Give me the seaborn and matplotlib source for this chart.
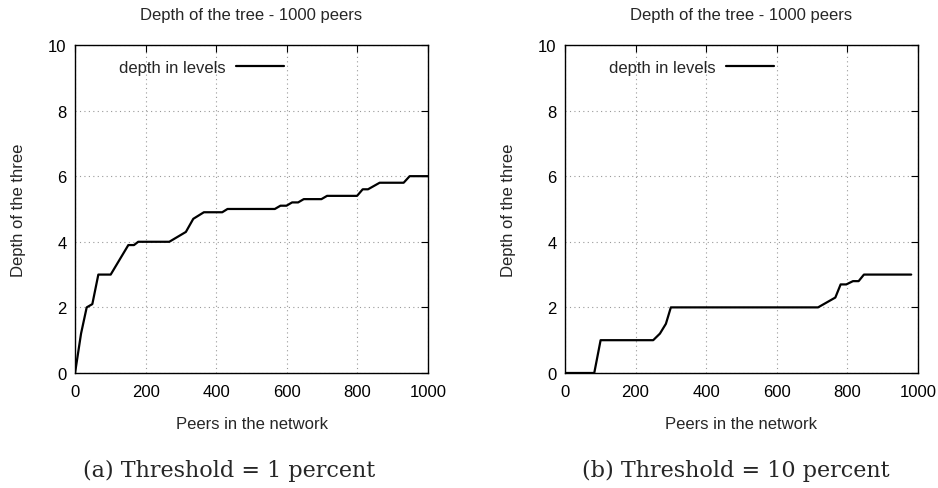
import numpy as np
import pandas as pd
import matplotlib
matplotlib.use("Agg")
import matplotlib.pyplot as plt
import seaborn as sns

# threshold = 1 percent
peers_a = [0, 17, 33, 49, 66, 101, 151, 167, 179, 267, 314, 335, 365, 417, 432,
           566, 582, 599, 615, 632, 648, 698, 714, 799, 815, 830, 863, 931, 948, 1000]
depth_a = [0, 1.2, 2.0, 2.1, 3.0, 3.0, 3.9, 3.9, 4.0, 4.0, 4.3, 4.7, 4.9, 4.9, 5.0,
           5.0, 5.1, 5.1, 5.2, 5.2, 5.3, 5.3, 5.4, 5.4, 5.6, 5.6, 5.8, 5.8, 6.0, 6.0]

# threshold = 10 percent
peers_b = [0, 83, 101, 250, 269, 286, 300, 717, 766, 781, 797, 816, 832, 847, 981]
depth_b = [0, 0, 1.0, 1.0, 1.2, 1.5, 2.0, 2.0, 2.3, 2.7, 2.7, 2.8, 2.8, 3.0, 3.0]

title = "Depth of the tree - 1000 peers"
xlabel = "Peers in the network"
ylabel = "Depth of the three"
captions = ["(a) Threshold = 1 percent", "(b) Threshold = 10 percent"]

sns.set_style("white")
plt.rcParams['font.family'] = ['Liberation Sans', 'DejaVu Sans']

fig = plt.figure(figsize=(9.38, 4.89), dpi=100)
lefts = [0.080, 0.6023]
cap_x = [229 / 938, 736 / 938]

for i, (px, dy) in enumerate([(peers_a, depth_a), (peers_b, depth_b)]):
    ax = fig.add_axes([lefts[i], 0.2352, 0.3763, 0.6708])
    df = pd.DataFrame({"peers": px, "depth": dy})
    sns.lineplot(data=df, x="peers", y="depth", ax=ax, color="black",
                 linewidth=1.6, label="depth in levels")
    ax.set_xlim(0, 1000)
    ax.set_ylim(0, 10)
    ax.set_xticks(np.arange(0, 1001, 200))
    ax.set_yticks(np.arange(0, 11, 2))
    ax.grid(True, color="#999999", linestyle=(0, (1, 3)), linewidth=0.8)
    ax.tick_params(direction="in", top=True, right=True, length=5, width=0.8,
                   labelsize=12, colors="black")
    ax.tick_params(axis="x", pad=8)
    ax.tick_params(axis="y", pad=6)
    for s in ax.spines.values():
        s.set_color("black")
        s.set_linewidth(1.0)
    ax.set_title(title, fontsize=12, pad=19)
    ax.set_xlabel(xlabel, fontsize=12, labelpad=12)
    ax.set_ylabel(ylabel, fontsize=12, labelpad=16)
    ax.legend(loc="upper left", bbox_to_anchor=(0.082, 1.0), frameon=False,
              markerfirst=False, handlelength=2.9, fontsize=12, handletextpad=0.6)
    fig.text(cap_x[i], 0.024, captions[i], ha="center", va="baseline",
             fontsize=16, family=["DejaVu Serif"])

fig.savefig("out.png", dpi=100)
